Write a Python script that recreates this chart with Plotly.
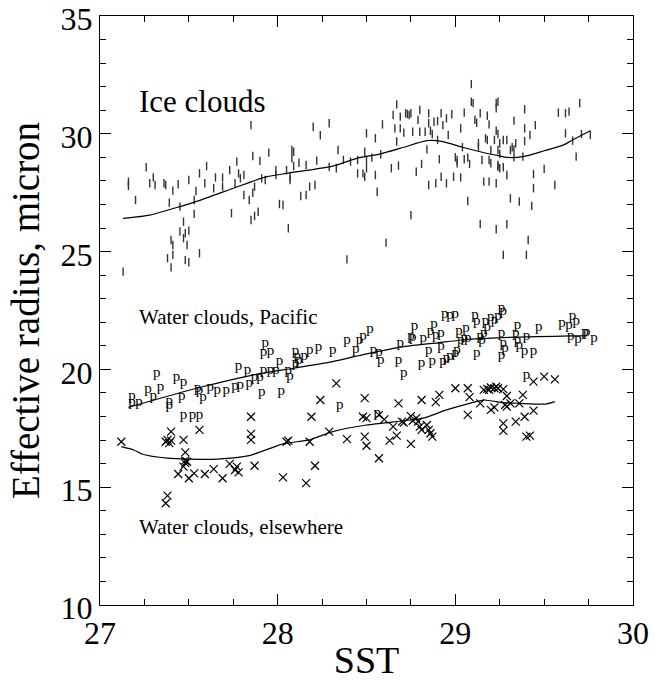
import plotly.graph_objects as go

# ---------------- data ----------------
ice_x = [27.13,27.16,27.16,27.20,27.26,27.28,27.30,27.31,27.36,27.37,27.39,27.40,27.41,27.38,27.41,27.40,27.41,27.44,27.45,27.45,
         27.47,27.47,27.48,27.49,27.50,27.48,27.50,27.50,27.53,27.53,27.54,27.56,27.56,27.59,27.60,27.64,27.65,27.69,27.69,27.73,
         27.74,27.76,27.77,27.78,27.79,27.81,27.81,27.84,27.85,27.85,27.87,27.89,27.86,27.86,27.87,27.90,27.91,27.93,27.95,27.99,
         27.99,28.01,28.03,28.05,28.06,28.07,28.07,28.08,28.08,28.09,28.09,28.12,28.13,28.16,28.16,28.18,28.20,28.21,28.22,28.24,
         28.29,28.29,28.33,28.34,28.37,28.39,28.41,28.45,28.45,28.48,28.49,28.50,28.49,28.50,28.50,28.55,28.55,28.56,28.53,28.58,
         28.59,28.61,28.64,28.65,28.66,28.67,28.67,28.68,28.69,28.69,28.71,28.72,28.73,28.74,28.75,28.75,28.76,28.78,28.79,28.80,
         28.80,28.81,28.83,28.84,28.85,28.85,28.86,28.85,28.87,28.88,28.89,28.90,28.90,28.91,28.92,28.92,28.93,28.95,28.95,28.96,
         28.98,28.99,29.00,29.01,29.01,29.03,29.03,29.04,29.05,29.05,29.07,29.08,29.07,29.09,29.09,29.10,29.11,29.12,29.13,29.13,
         29.14,29.14,29.15,29.16,29.17,29.18,29.18,29.19,29.19,29.19,29.20,29.20,29.22,29.23,29.23,29.23,29.24,29.23,29.23,29.24,
         29.24,29.25,29.25,29.24,29.24,29.25,29.27,29.27,29.27,29.29,29.29,29.29,29.31,29.31,29.32,29.33,29.33,29.34,29.33,29.36,
         29.38,29.39,29.39,29.39,29.40,29.41,29.42,29.43,29.44,29.44,29.45,29.50,29.56,29.58,29.62,29.64,29.62,29.66,29.68,29.70,
         29.71,29.76]
ice_y = [24.15,27.97,27.79,27.19,28.58,27.90,28.15,27.83,27.90,27.83,27.08,25.49,25.28,24.72,24.86,24.33,27.59,27.86,25.85,26.91,
         26.27,25.57,25.78,25.28,25.89,24.64,24.55,28.04,27.19,26.60,27.57,24.93,28.32,27.90,28.63,27.69,28.15,28.14,27.76,28.46,
         26.63,27.90,28.82,28.32,28.11,28.25,27.40,27.19,30.37,26.34,26.51,26.69,27.50,29.06,27.76,28.85,28.11,28.04,29.20,28.46,
         28.25,27.02,26.98,28.46,25.99,28.18,28.04,29.31,28.96,29.24,28.63,28.77,27.36,28.68,27.40,27.76,30.30,27.83,28.86,29.94,
         30.45,28.60,28.54,29.31,28.89,24.67,28.82,28.89,28.32,28.32,28.18,30.02,29.24,28.89,28.54,29.81,28.25,27.54,28.99,29.13,
         30.40,25.38,28.54,30.80,30.23,29.67,31.25,28.65,30.23,30.73,30.05,30.87,30.84,30.80,30.87,26.55,30.09,28.39,30.59,31.01,
         30.09,28.72,30.09,29.34,30.87,30.45,30.13,27.83,29.99,30.51,27.90,30.54,29.74,28.92,30.87,28.18,30.37,30.66,27.90,29.95,
         30.83,28.18,29.00,28.89,28.75,30.23,28.15,29.43,30.90,28.92,28.99,28.72,27.15,32.11,31.36,31.30,30.59,30.47,29.60,29.45,
         30.87,26.17,28.89,27.97,29.81,30.77,29.74,27.97,30.40,28.89,28.75,29.31,29.74,27.90,25.95,31.30,31.36,31.08,30.13,29.99,
         29.31,29.60,29.14,28.68,28.60,28.54,28.58,29.74,24.86,29.74,26.16,28.25,27.26,29.31,29.43,29.34,30.56,29.60,29.00,27.12,
         29.03,30.23,29.69,31.04,24.86,25.49,29.95,26.94,27.69,28.29,30.37,28.51,27.83,30.90,30.87,30.94,30.02,29.71,29.03,31.30,
         29.99,29.95]

pac_x = [27.18,27.18,27.22,27.27,27.30,27.34,27.32,27.39,27.39,27.43,27.47,27.46,27.55,27.56,27.58,27.62,27.66,27.71,27.76,27.79,
         27.84,27.47,27.52,27.56,27.78,27.83,27.87,27.90,27.92,27.96,27.99,28.01,27.91,28.02,27.93,27.92,27.96,28.06,28.07,28.10,
         28.11,28.12,28.10,28.15,28.18,28.23,28.31,28.39,28.44,28.46,28.48,28.52,28.35,28.54,28.57,28.58,28.68,28.69,28.71,28.75,
         28.76,28.77,28.81,28.82,28.85,28.87,28.86,28.88,28.89,28.92,28.92,28.94,28.97,29.00,28.93,28.95,28.97,29.00,29.01,29.02,
         29.06,29.03,29.05,29.07,29.11,29.12,29.12,29.14,29.16,29.17,29.20,29.22,29.24,29.26,29.27,29.18,29.15,29.26,29.27,29.26,
         29.28,29.35,29.34,29.35,29.36,29.40,29.39,29.44,29.47,29.60,29.64,29.66,29.68,29.65,29.69,29.73,29.74,29.78,29.40,28.56]
pac_y = [18.87,18.59,18.59,19.16,18.87,19.24,19.84,18.63,18.49,19.67,19.44,18.84,19.20,19.13,18.82,19.24,19.10,19.10,19.27,19.34,
         19.41,18.07,18.07,18.07,20.15,19.98,19.67,19.67,19.95,19.95,19.98,20.33,19.01,19.06,21.13,20.71,20.75,19.98,19.72,20.75,
         20.57,20.40,20.26,20.54,20.83,20.94,20.80,21.22,20.85,21.25,21.42,21.70,18.49,20.83,20.71,20.37,20.37,21.11,19.84,21.39,
         21.36,21.84,20.26,21.32,20.83,20.33,21.60,21.93,21.46,21.53,20.97,22.35,22.31,22.35,20.33,20.47,20.54,20.68,20.83,21.64,
         21.75,21.25,21.32,21.32,22.31,22.03,20.68,21.39,21.53,22.03,22.21,22.10,22.24,22.59,22.45,21.81,21.25,21.53,21.11,20.61,
         20.90,21.89,21.53,21.25,21.04,21.39,20.75,20.75,21.79,21.96,21.89,22.24,22.03,21.39,21.28,21.56,21.56,21.32,19.76,18.14]

else_x = [27.12,27.37,27.38,27.39,27.40,27.40,27.47,27.48,27.48,27.49,27.48,27.44,27.47,27.50,27.53,27.56,27.37,27.38,27.59,27.64,
          27.69,27.73,27.76,27.78,27.77,27.85,27.85,27.85,27.87,28.03,28.05,28.06,28.16,28.18,28.19,28.21,28.24,28.29,28.33,28.39,
          28.49,28.48,28.50,28.49,28.50,28.57,28.57,28.60,28.63,28.67,28.65,28.68,28.70,28.71,28.75,28.75,28.76,28.78,28.79,28.80,
          28.81,28.81,28.84,28.85,28.86,28.87,28.89,28.91,29.00,29.07,29.08,29.07,29.14,29.16,29.18,29.19,29.20,29.22,29.23,29.24,
          29.22,29.20,29.27,29.29,29.28,29.29,29.31,29.36,29.38,29.27,29.27,29.34,29.39,29.44,29.40,29.42,29.44,29.50,29.56]
else_y = [16.93,16.93,17.01,16.87,16.98,17.36,17.01,16.48,16.13,16.08,16.02,15.56,15.87,15.38,15.59,17.43,14.32,14.64,15.56,15.77,
          15.38,15.99,15.73,15.63,15.87,17.99,17.26,17.01,15.91,15.42,16.93,16.98,15.17,16.93,17.99,15.91,18.70,17.36,19.41,17.04,
          18.78,17.99,17.93,17.15,16.76,16.23,18.07,17.88,16.98,17.19,17.57,18.56,17.78,17.74,16.84,18.02,17.82,17.93,17.78,17.57,
          17.43,18.70,17.64,17.43,17.29,17.15,18.61,18.92,19.20,19.20,18.82,18.07,18.56,19.13,19.17,19.13,19.23,19.20,19.27,19.20,
          18.39,18.28,19.16,18.87,18.49,18.42,18.56,18.56,18.92,17.71,17.39,17.78,17.99,18.25,17.15,17.19,19.48,19.69,19.58]

ice_fit_x = [27.13,27.28,27.45,27.54,27.75,27.88,27.94,28.05,28.31,28.46,28.58,28.71,28.84,28.93,29.04,29.14,29.25,29.29,29.38,29.50,29.61,29.66,29.76]
ice_fit_y = [26.41,26.55,26.91,27.12,27.69,28.04,28.18,28.32,28.63,28.99,29.15,29.43,29.71,29.67,29.43,29.24,29.06,29.00,29.03,29.28,29.53,29.74,30.13]

pac_fit_x = [27.16,27.56,27.86,28.09,28.31,28.50,28.71,28.90,29.08,29.27,29.46,29.65,29.74]
pac_fit_y = [18.39,19.23,19.76,20.05,20.33,20.66,20.97,21.13,21.28,21.35,21.39,21.42,21.42]

else_fit_x = [27.12,27.19,27.24,27.38,27.51,27.66,27.84,28.03,28.18,28.31,28.50,28.71,28.82,28.95,29.08,29.16,29.27,29.36,29.51,29.56]
else_fit_y = [16.72,16.58,16.40,16.23,16.19,16.19,16.34,16.84,17.01,17.36,17.64,17.82,17.93,18.28,18.56,18.70,18.59,18.56,18.53,18.63]

x_tickvals = [27, 28, 29, 30]
y_tickvals = [10, 15, 20, 25, 30, 35]

labels = ["Ice clouds", "Water clouds, Pacific", "Water clouds, elsewhere"]
label_x = [27.21, 27.21, 27.21]
label_y = [31.39, 22.23, 13.31]
label_size = [31, 21, 21]

SERIF = "Liberation Serif, Times New Roman, serif"

fig = go.Figure()
fig.add_trace(go.Scatter(x=ice_x, y=ice_y, mode="markers",
                         marker=dict(symbol="line-ns", size=6, color="#333",
                                     line=dict(width=1.4, color="#333")),
                         showlegend=False))
fig.add_trace(go.Scatter(x=pac_x, y=pac_y, mode="text", text=["p"] * len(pac_x),
                         textposition="middle center",
                         textfont=dict(family=SERIF, size=15, color="black"),
                         showlegend=False))
fig.add_trace(go.Scatter(x=else_x, y=else_y, mode="markers",
                         marker=dict(symbol="x-thin-open", size=8, color="black",
                                     line=dict(width=1.2, color="black")),
                         showlegend=False))
for fx, fy in [(ice_fit_x, ice_fit_y), (pac_fit_x, pac_fit_y), (else_fit_x, else_fit_y)]:
    fig.add_trace(go.Scatter(x=fx, y=fy, mode="lines",
                             line=dict(color="black", width=1.2, shape="spline", smoothing=0.6),
                             showlegend=False))

for t, lx, ly, s in zip(labels, label_x, label_y, label_size):
    fig.add_annotation(x=lx, y=ly, text=t, showarrow=False, xanchor="left", yanchor="middle",
                       font=dict(family=SERIF, size=s, color="black"))

axis_common = dict(showgrid=False, zeroline=False, showline=True, linecolor="black", linewidth=1,
                   mirror="allticks", ticks="inside", tickcolor="black", tickwidth=1, ticklen=11,
                   ticklabeloverflow="allow", automargin=False,
                   tickfont=dict(family=SERIF, size=32, color="black"))

fig.update_xaxes(range=[27, 30], tickvals=x_tickvals, ticktext=[str(v) for v in x_tickvals],
                 minor=dict(tick0=27, dtick=0.25, ticks="inside", ticklen=6, tickcolor="black", tickwidth=1, showgrid=False),
                 title=dict(text="SST", font=dict(family=SERIF, size=38, color="black"), standoff=15),
                 **axis_common)
fig.update_yaxes(range=[10, 35], tickvals=y_tickvals, ticktext=[str(v) for v in y_tickvals],
                 ticklabelshift=3,
                 minor=dict(tick0=10, dtick=1, ticks="inside", ticklen=6, tickcolor="black", tickwidth=1, showgrid=False),
                 title=dict(text="Effective radius, micron", font=dict(family=SERIF, size=39, color="black"), standoff=8),
                 **axis_common)

fig.update_layout(width=661, height=681, margin=dict(l=100, r=28, t=16, b=76),
                  paper_bgcolor="white", plot_bgcolor="white", showlegend=False)

fig.write_html("out.html")
